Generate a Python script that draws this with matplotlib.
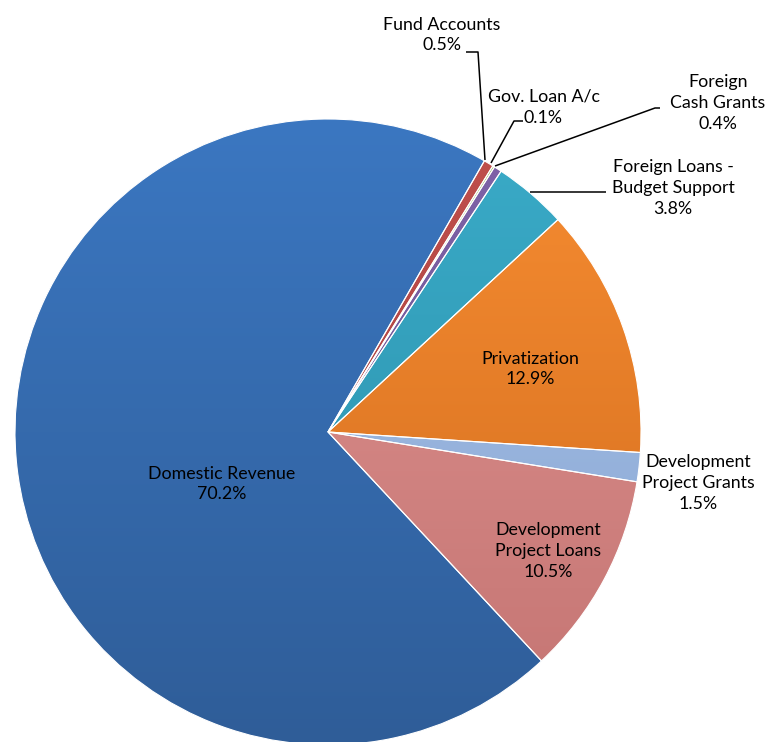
import numpy as np
import matplotlib
matplotlib.use("Agg")
import matplotlib.pyplot as plt
from matplotlib.colors import to_rgb

plt.rcParams['font.family'] = ['Lato', 'DejaVu Sans']

categories = ["Development\nProject Loans", "Development\nProject Grants", "Privatization",
              "Foreign Loans -\nBudget Support", "Foreign\nCash Grants", "Gov. Loan A/c",
              "Fund Accounts", "Domestic Revenue"]
values = [10.5, 1.5, 12.9, 3.8, 0.4, 0.1, 0.5, 70.2]
colors = ["#e09492", "#a9c3ea", "#f78d32", "#3aabc8", "#8064a9", "#9bbb59", "#c0504d", "#3b77c1"]
dark = ["#c47472", "#86a4d0", "#cf6a1c", "#2a8ea8", "#624a8a", "#7f9c45", "#a33c39", "#2f5d98"]

W, H = 769, 742
fig = plt.figure(figsize=(W / 100, H / 100), dpi=100)
ax = fig.add_axes([0, 0, 1, 1])

cx, cy, R = 328, H - 432, 313
wedges, _ = ax.pie(values, colors=colors, startangle=-47, counterclock=True,
                   center=(cx, cy), radius=R, frame=True,
                   wedgeprops=dict(edgecolor='white', linewidth=0.8))
ax.set_xlim(0, W)
ax.set_ylim(0, H)
ax.set_aspect('equal')
ax.axis('off')

# gradient shading per wedge
ny = 200
for w, c1, c2 in zip(wedges, colors, dark):
    a = np.array(to_rgb(c1)); b = np.array(to_rgb(c2))
    t = np.linspace(0, 1, ny)[:, None]
    grad = (a * (1 - t) + b * t)[:, None, :]
    grad = np.repeat(grad, 2, axis=1)
    im = ax.imshow(grad, extent=(cx - R, cx + R, cy - R, cy + R), origin='upper',
                   aspect='auto', zorder=1.5, interpolation='bilinear')
    im.set_clip_path(w)
    w.set_facecolor('none')
    w.set_zorder(2)

def px(x, y):
    return x, H - y

fs = 12.8
def lab(x, y, s, ha='center'):
    ax.text(*px(x, y), s, ha=ha, va='center', fontsize=fs, color='black',
            linespacing=1.35, zorder=5)

lab(222, 484, "Domestic Revenue\n70.2%")
lab(530, 369, "Privatization\n12.9%")
lab(548, 551, "Development\nProject Loans\n10.5%")
lab(698, 483, "Development\nProject Grants\n1.5%")
lab(673, 188, "Foreign Loans -\nBudget Support\n3.8%")
lab(718, 103, "Foreign\nCash Grants\n0.4%")
lab(442, 35, "Fund Accounts\n0.5%")
ax.text(*px(488, 96), "Gov. Loan A/c", ha='left', va='center', fontsize=fs, zorder=5)
ax.text(*px(524, 118), "0.1%", ha='left', va='center', fontsize=fs, zorder=5)

def leader(pts):
    xs = [p[0] for p in pts]; ys = [H - p[1] for p in pts]
    ax.plot(xs, ys, color='black', lw=1.1, zorder=4, solid_capstyle='butt')

leader([(466, 52), (478, 52), (485, 160)])
leader([(523, 121), (514, 121), (491, 163)])
leader([(660, 108), (655, 108), (495, 166)])
leader([(606, 192), (530, 192)])

fig.savefig("out.png", dpi=100)
